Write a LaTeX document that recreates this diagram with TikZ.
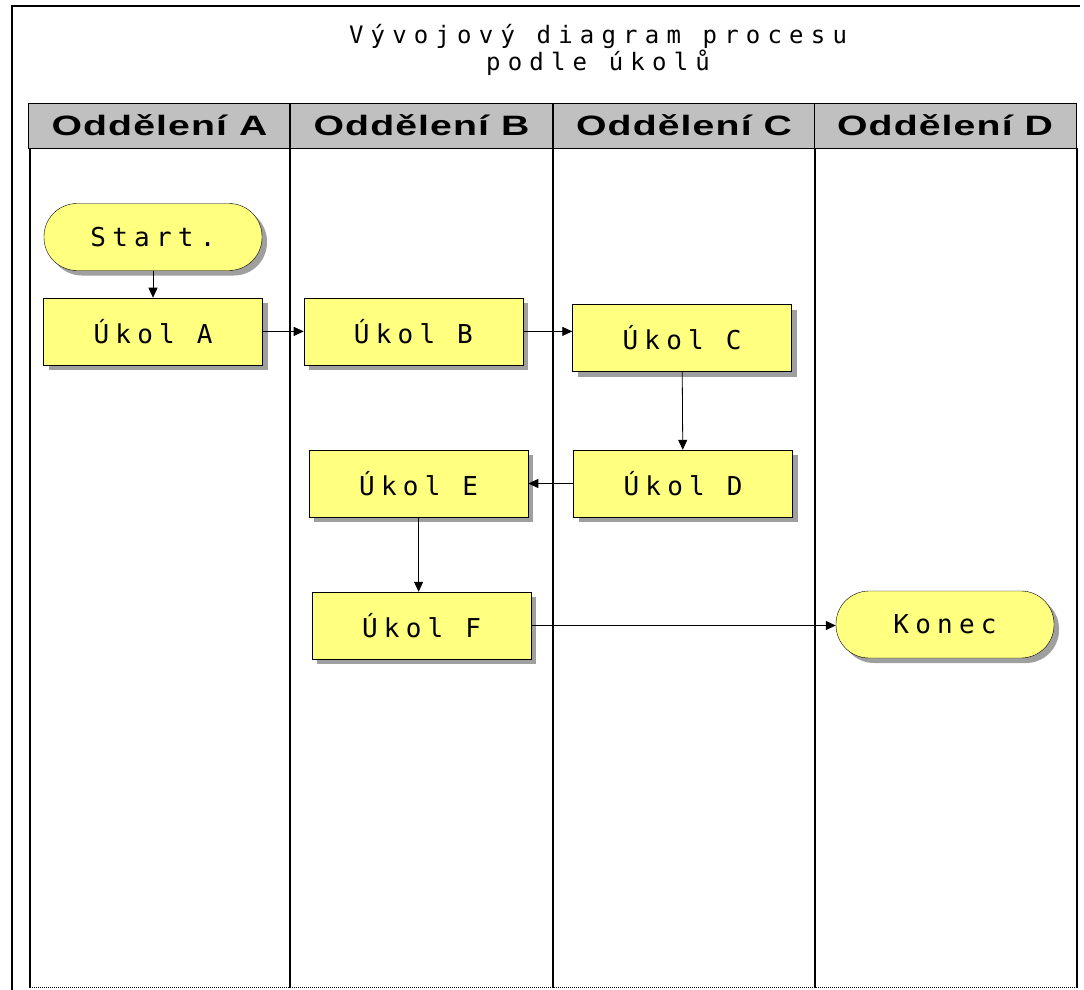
\documentclass[tikz,border=0pt]{standalone}
\usepackage{fontspec}
\newfontfamily\titlefont[LetterSpace=30]{DejaVu Sans Mono}
\newfontfamily\boxfont[LetterSpace=24]{DejaVu Sans Mono}
\newfontfamily\lanefont[FakeStretch=1.4,LetterSpace=4]{Liberation Sans}
\usepackage{tikz}
\usetikzlibrary{positioning, shapes, shadows, arrows.meta}
\definecolor{taskyellow}{RGB}{255,255,128}
\definecolor{lanegray}{RGB}{192,192,192}

\tikzset{
    task/.style={draw, rectangle, fill=taskyellow, minimum width=219pt, minimum height=67pt,
        font=\boxfont\fontsize{26}{28}\selectfont,
        drop shadow={shadow xshift=5pt, shadow yshift=-5pt, fill=gray!75, opacity=1}},
    terminal/.style={task, rounded corners=33pt, minimum width=218pt, minimum height=67pt},
    lanehead/.style={draw, rectangle, fill=lanegray, minimum width=262pt, minimum height=45pt,
        inner sep=0pt, font=\lanefont\bfseries\fontsize{28}{30}\selectfont},
    flow/.style={-{Triangle[length=10pt, width=9pt]}, line width=0.8pt}
}

\begin{document}
\begin{tikzpicture}[x=1pt, y=-1pt, node distance=27pt, >=Latex]
    \useasboundingbox (0,0) rectangle (1084,990);
    % Frame and title
    \draw[line width=1.2pt] (12,990) -- (12,6) -- (1080,6);
    \node[align=center, font=\titlefont\fontsize{24}{23}\selectfont] (title) at (598,50)
        {Vývojový diagram procesu\\podle úkolů};

    % Swimlane headers
    \foreach \x/\dept in {159.5/A, 421.5/B, 684/C, 945/D}
        \node[lanehead] (H\dept) at (\x,125.5) {Oddělení \dept};

    % Swimlane lines
    \draw[line width=1.2pt] (30,148) -- (30,988);
    \draw[line width=2.5pt] (290,103) -- (290,988);
    \draw[line width=1.2pt] (553,148) -- (553,988);
    \draw[line width=1.2pt] (815,148) -- (815,988);
    \draw[line width=1.2pt] (1077,148) -- (1077,988);
    \draw[densely dotted, line width=1pt] (30,987) -- (1077,987);

    % Nodes for the process
    \node[terminal] (start) at (153,237) {Start.};
    \node[task, below=of start.south, anchor=north] (A) {Úkol A};
    \node[task, right=41pt of A] (B) {Úkol B};
    \node[task] (C) at (682,338) {Úkol C};
    \node[task] (D) at (683,483.5) {Úkol D};
    \node[task, left=45pt of D] (E) {Úkol E};
    \node[task] (F) at (421.5,625.5) {Úkol F};
    \node[terminal] (end) at (945,624.5) {Konec};

    % Arrows for the process
    \draw[flow] (start) -- (A);
    \draw[flow] (A) -- (B);
    \draw[flow] (B.east) -- (B.east -| C.west);
    \draw[flow] (C) -- (D);
    \draw[flow] (D) -- (E);
    \draw[flow] (E.south) -- (E.south |- F.north);
    \draw[flow] (F.east) -- (F.east -| end.west);
\end{tikzpicture}
\end{document}
